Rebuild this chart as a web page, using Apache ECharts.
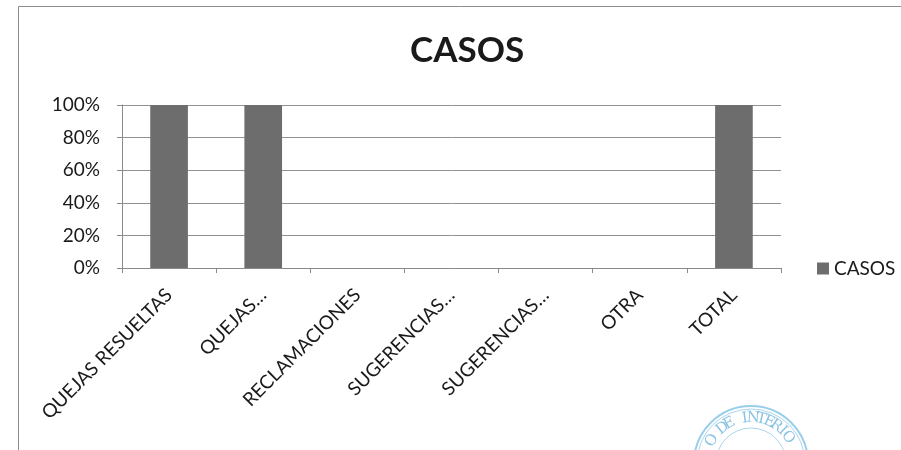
<!DOCTYPE html>
<html>
<head>
<meta charset="utf-8">
<script src="https://cdn.jsdelivr.net/npm/echarts@6/dist/echarts.min.js"></script>
<style>
html,body{margin:0;padding:0;background:#fff;}
#chart{width:901px;height:450px;}
</style>
</head>
<body>
<div id="chart"></div>
<script>
const categories = ['QUEJAS RESUELTAS', 'QUEJAS…', 'RECLAMACIONES', 'SUGERENCIAS…', 'SUGERENCIAS…', 'OTRA', 'TOTAL'];
const casosValues = [100, 100, 0, 0, 0, 0, 100];
const yTicks = [0, 20, 40, 60, 80, 100];
const stampText = 'O DE INTERIO';

const FONT = 'Lato';
const chart = echarts.init(document.getElementById('chart'), null, {renderer: 'canvas'});

// decorative stamp letters along an arc
const stampCx = 751, stampCy = 463, stampR = 45;
const stampLetters = [];
const startAng = 150, endAng = 35;
for (let i = 0; i < stampText.length; i++) {
  const a = (startAng - (startAng - endAng) * i / (stampText.length - 1)) * Math.PI / 180;
  stampLetters.push({
    type: 'text',
    x: stampCx + stampR * Math.cos(a),
    y: stampCy - stampR * Math.sin(a),
    rotation: a - Math.PI / 2,
    style: {text: stampText[i], fill: 'rgba(90,170,215,0.7)', font: '15px "DejaVu Serif"', align: 'center', verticalAlign: 'middle'},
    silent: true
  });
}

chart.setOption({
  backgroundColor: '#ffffff',
  animation: false,
  title: {
    text: 'CASOS',
    left: 405,
    top: 28,
    textStyle: {fontFamily: FONT, fontWeight: 'bold', fontSize: 35, color: '#1a1a1a'}
  },
  legend: {
    data: ['CASOS'],
    orient: 'vertical',
    left: 812,
    top: 254,
    icon: 'rect',
    itemWidth: 12,
    itemHeight: 12,
    itemGap: 6,
    textStyle: {fontFamily: FONT, fontSize: 19, color: '#1a1a1a'}
  },
  grid: {left: 122, right: 120, top: 105, bottom: 182},
  xAxis: {
    type: 'category',
    data: categories,
    boundaryGap: true,
    axisLine: {show: true, lineStyle: {color: '#8a8a8a', width: 1}},
    axisTick: {show: true, length: 5, inside: false, lineStyle: {color: '#8a8a8a'}},
    axisLabel: {interval: 0, rotate: 45, margin: 24, fontFamily: FONT, fontSize: 19, color: '#1a1a1a'},
    splitLine: {show: false}
  },
  yAxis: {
    type: 'value',
    min: 0,
    max: 100,
    interval: 20,
    axisLine: {show: true, lineStyle: {color: '#8a8a8a', width: 1}},
    axisTick: {show: true, length: 5, lineStyle: {color: '#8a8a8a'}},
    axisLabel: {formatter: '{value}%', margin: 22, fontFamily: FONT, fontSize: 19, color: '#1a1a1a'},
    splitLine: {show: true, lineStyle: {color: '#929292', width: 1}}
  },
  series: [{
    name: 'CASOS',
    type: 'bar',
    data: casosValues,
    barWidth: '40%',
    itemStyle: {color: '#6d6d6d'}
  }],
  graphic: [
    {type: 'line', shape: {x1: 18.5, y1: 6.5, x2: 901, y2: 6.5}, style: {stroke: '#8c8c8c', lineWidth: 1}, silent: true, z: 100},
    {type: 'line', shape: {x1: 18.5, y1: 6.5, x2: 18.5, y2: 450}, style: {stroke: '#8c8c8c', lineWidth: 1}, silent: true, z: 100},
    {type: 'circle', shape: {cx: stampCx, cy: stampCy, r: 57}, style: {fill: 'none', stroke: 'rgba(110,185,225,0.7)', lineWidth: 2}, silent: true},
    {type: 'circle', shape: {cx: stampCx, cy: stampCy, r: 54}, style: {fill: 'none', stroke: 'rgba(110,185,225,0.6)', lineWidth: 1}, silent: true},
    {type: 'circle', shape: {cx: stampCx, cy: stampCy, r: 35}, style: {fill: 'none', stroke: 'rgba(110,185,225,0.6)', lineWidth: 1}, silent: true}
  ].concat(stampLetters)
});
</script>
</body>
</html>
